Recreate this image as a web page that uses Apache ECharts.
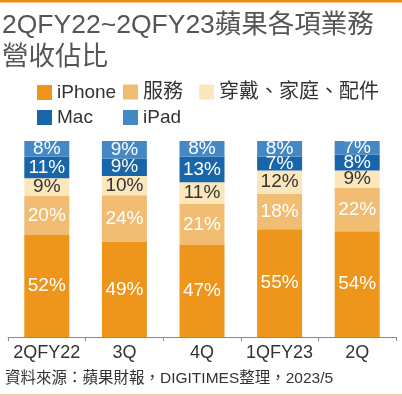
<html>
<head>
<meta charset="utf-8">
<script src="https://cdn.jsdelivr.net/npm/echarts@6/dist/echarts.min.js"></script>
<style>
  html, body { margin: 0; padding: 0; background: #fff; }
  #chart { width: 402px; height: 396px; }
</style>
</head>
<body>
<div id="chart"></div>
<script type="text/javascript">
var quarters = ['2QFY22', '3Q', '4Q', '1QFY23', '2Q'];
var seriesNames = ['iPhone', '服務', '穿戴、家庭、配件', 'Mac', 'iPad'];
var iphone = [52, 49, 47, 55, 54];
var services = [20, 24, 21, 18, 22];
var wearables = [9, 10, 11, 12, 9];
var mac = [11, 9, 13, 7, 8];
var ipad = [8, 9, 8, 8, 7];

var allValues = [iphone, services, wearables, mac, ipad];
var colors = ['#EE951B', '#F0BD72', '#FCE7BD', '#1866A9', '#4489C5'];
var labelColors = ['#fff', '#fff', '#333', '#fff', '#fff'];
var font = "'Liberation Sans', 'Noto Sans CJK TC', sans-serif";

// each column is drawn as a share of its own total so all stacks reach the top
var totals = quarters.map(function (q, i) {
    var s = 0;
    allValues.forEach(function (arr) { s += arr[i]; });
    return s;
});

var series = allValues.map(function (arr, k) {
    return {
        name: seriesNames[k],
        type: 'bar',
        stack: 'total',
        barWidth: 45,
        itemStyle: { color: colors[k] },
        label: {
            show: true,
            position: 'inside',
            color: labelColors[k],
            fontSize: 19,
            fontFamily: font,
            formatter: function (p) { return arr[p.dataIndex] + '%'; }
        },
        data: arr.map(function (v, i) { return v / totals[i] * 100; })
    };
});

var legendX = [37, 123, 199, 37, 123];
var legendY = [83, 82, 82, 108, 108];
var legendSize = [19, 20, 20, 19, 19];
var legends = seriesNames.map(function (n, k) {
    return {
        data: [n],
        left: legendX[k],
        top: legendY[k],
        padding: 0,
        icon: 'rect',
        itemWidth: 15,
        itemHeight: 15,
        textStyle: { fontSize: legendSize[k], color: '#333', fontFamily: font }
    };
});

var myChart = echarts.init(document.getElementById('chart'), null, { renderer: 'canvas' });
var option = {
    animation: false,
    title: {
        text: '2QFY22~2QFY23蘋果各項業務\n營收佔比',
        left: 2,
        top: 10,
        padding: 0,
        textStyle: { fontSize: 26.5, lineHeight: 32, fontWeight: 'normal', color: '#555', fontFamily: font }
    },
    legend: legends,
    grid: { left: 8, right: 6, top: 141, bottom: 59 },
    xAxis: {
        type: 'category',
        data: quarters,
        axisLine: { lineStyle: { color: '#888', width: 1 } },
        axisTick: { show: true, length: 4, lineStyle: { color: '#888' } },
        axisLabel: { interval: 0, fontSize: 18, color: '#333', margin: 7, fontFamily: font }
    },
    yAxis: {
        type: 'value',
        min: 0,
        max: 100,
        show: false,
        splitLine: { show: false }
    },
    graphic: [
        { type: 'rect', shape: { x: 0, y: 0, width: 402, height: 2.5 }, style: { fill: '#EE8A12' } },
        { type: 'rect', shape: { x: 0, y: 394.5, width: 402, height: 1 }, style: { fill: '#F0A050' } },
        {
            type: 'text', x: 5, y: 379,
            style: {
                text: '資料來源：蘋果財報，DIGITIMES整理，2023/5',
                font: '15.5px ' + font,
                fill: '#333',
                textVerticalAlign: 'middle'
            }
        }
    ],
    series: series
};
myChart.setOption(option);
</script>
</body>
</html>
